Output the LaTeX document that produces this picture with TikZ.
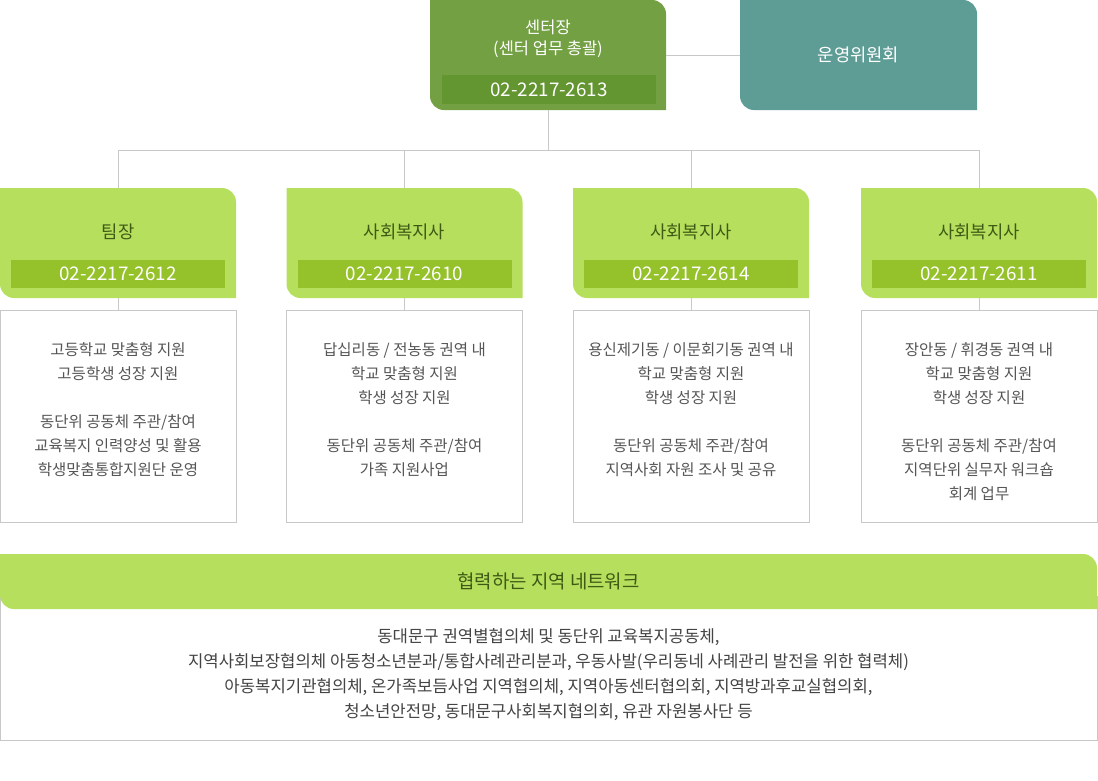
\documentclass[tikz,border=0pt]{standalone}
\usepackage{fontspec}
\setmainfont{Noto Sans CJK KR}
\usetikzlibrary{positioning}
\definecolor{headgreen}{HTML}{72A043}
\definecolor{headbar}{HTML}{639530}
\definecolor{boardteal}{HTML}{5E9D96}
\definecolor{teamgreen}{HTML}{B6DF5E}
\definecolor{teambar}{HTML}{95C22B}
\definecolor{teamtext}{HTML}{3F5A14}
\definecolor{linegray}{HTML}{C8C8C8}
\definecolor{dutytext}{HTML}{555555}
\definecolor{nettext}{HTML}{444444}

\begin{document}
\begin{tikzpicture}[x=1pt,y=1pt,
    tab/.style={
      minimum width=236pt,minimum height=110pt,inner sep=0pt,
      path picture={\fill[#1] (path picture bounding box.north west)
        -- ([xshift=-14pt]path picture bounding box.north east)
        arc[start angle=90,end angle=0,radius=14pt]
        -- (path picture bounding box.south east)
        -- ([xshift=14pt]path picture bounding box.south west)
        arc[start angle=270,end angle=180,radius=14pt] -- cycle;}
    },
    telbar/.style={
      fill=#1,text=white,inner sep=0pt,
      minimum width=214pt,minimum height=28pt,
      font=\fontsize{18.8}{20}\selectfont
    },
    role/.style={
      text=teamtext,font=\fontsize{17.7}{20}\selectfont
    },
    dutybox/.style={
      draw=linegray,line width=1pt,fill=white,inner sep=0pt,
      minimum width=236pt,minimum height=212pt
    },
    duty/.style={
      text=dutytext,align=center,inner sep=0pt,anchor=north,
      font=\fontsize{15.5}{24}\selectfont
    },
    link/.style={draw=linegray,line width=1pt}]

  \useasboundingbox (0,0) rectangle (1098,-780);

  % head and board
  \node[tab=headgreen] (ctr) at (548,-55) {};
  \node[text=white,align=center,font=\fontsize{16.5}{21}\selectfont] (ctrrole) at (548,-38.5) {센터장\\(센터 업무 총괄)};
  \node[telbar=headbar,minimum height=29pt] (ctrtel) at (549,-89.5) {02-2217-2613};
  \node[tab=boardteal,minimum width=237pt,text=white,font=\fontsize{17.7}{20}\selectfont] (board) at (858.5,-55) {운영위원회};
  \draw[link] (ctr) -- (board);

  \coordinate (bus) at (548,-150);
  \draw[link] (ctr) -- (bus);

  % teams
  \foreach \i/\x/\name/\ext in {1/118/팀장/2612,2/404.5/사회복지사/2610,3/691/사회복지사/2614,4/979/사회복지사/2611}{
    \node[tab=teamgreen] (team\i) at (\x,-243) {};
    \node[role] (role\i) at (\x,-232) {\name};
    \node[telbar=teambar] (tel\i) at (\x,-274) {02-2217-\ext};
    \node[dutybox] (box\i) at (\x,-416) {};
    \draw[link] (team\i) -- (box\i);
    \draw[link] (team\i.north) |- (bus);
  }

  \node[duty] (duty1) at ([yshift=-32.5pt]box1.north) {고등학교 맞춤형 지원\\고등학생 성장 지원\\[24pt]동단위 공동체 주관/참여\\교육복지 인력양성 및 활용\\학생맞춤통합지원단 운영};
  \node[duty] (duty2) at ([yshift=-32.5pt]box2.north) {답십리동 / 전농동 권역 내\\학교 맞춤형 지원\\학생 성장 지원\\[24pt]동단위 공동체 주관/참여\\가족 지원사업};
  \node[duty] (duty3) at ([yshift=-32.5pt]box3.north) {용신제기동 / 이문회기동 권역 내\\학교 맞춤형 지원\\학생 성장 지원\\[24pt]동단위 공동체 주관/참여\\지역사회 자원 조사 및 공유};
  \node[duty] (duty4) at ([yshift=-32.5pt]box4.north) {장안동 / 휘경동 권역 내\\학교 맞춤형 지원\\학생 성장 지원\\[24pt]동단위 공동체 주관/참여\\지역단위 실무자 워크숍\\회계 업무};

  % network
  \node[dutybox,minimum width=1097pt,minimum height=144pt] (netbox) at (548.5,-668) {};
  \node[tab=teamgreen,minimum width=1097pt,minimum height=55pt,role,font=\fontsize{18.9}{20}\selectfont] (net) at (548.5,-581.5) {협력하는 지역 네트워크};
  \node[text=nettext,align=center,inner sep=0pt,font=\fontsize{16.7}{25}\selectfont] (netlist) at (548.5,-675) {동대문구 권역별협의체 및 동단위 교육복지공동체,\\지역사회보장협의체 아동청소년분과/통합사례관리분과, 우동사발(우리동네 사례관리 발전을 위한 협력체)\\아동복지기관협의체, 온가족보듬사업 지역협의체, 지역아동센터협의회, 지역방과후교실협의회,\\청소년안전망, 동대문구사회복지협의회, 유관 자원봉사단 등};
\end{tikzpicture}
\end{document}
